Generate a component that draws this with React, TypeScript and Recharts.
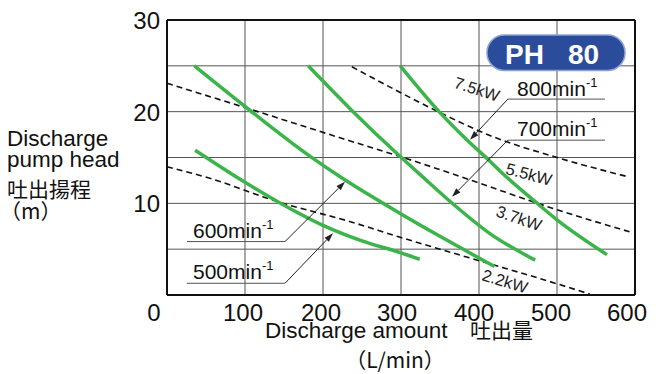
import React from 'react';
import { LineChart, Line, XAxis, YAxis, CartesianGrid, ReferenceLine } from 'recharts';

// 回転数別の性能曲線 (吐出量 L/min → 揚程 m)
const flow500 = [36, 100, 150, 200, 250, 300, 324];
const head500 = [15.8, 12.3, 9.8, 7.6, 5.9, 4.6, 3.9];
const flow600 = [35, 107, 184, 222, 299, 350, 420];
const head600 = [25.0, 20.1, 15.1, 12.9, 8.9, 6.4, 3.1];
const flow700 = [181, 235, 299, 325, 363, 414, 472];
const head700 = [25.0, 20.3, 15.1, 13.1, 10.2, 6.7, 3.8];
const flow800 = [299, 350, 386, 414, 431, 469, 500, 564];
const head800 = [25.0, 19.9, 16.8, 14.6, 13.2, 10.4, 8.2, 4.4];

// 出力の境界線 (破線)
const flowLimitHigh = [237, 299, 350, 414, 500, 591];
const headLimitHigh = [24.9, 22.1, 19.9, 17.4, 15.0, 12.9];
const flowLimitMid = [0, 98, 235, 299, 363, 414, 500, 593];
const headLimitMid = [23.1, 20.5, 16.8, 15.1, 13.3, 11.8, 9.3, 6.9];
const flowLimitLow = [0, 56, 141, 235, 299, 350, 414, 474, 542];
const headLimitLow = [14.0, 12.7, 10.2, 8.0, 6.3, 5.0, 3.4, 1.9, 0.1];

const xTicks = [0, 100, 200, 300, 400, 500, 600];
const yTicks = [0, 5, 10, 15, 20, 25, 30];
const yLabelled = [10, 20, 30];
const speedLabels = ['800', '700', '600', '500'];
const powerLabels = ['7.5kW', '5.5kW', '3.7kW', '2.2kW'];

// 引き出し線: 下線の両端と矢印の先 (データ座標)
const underlineFrom = [437, 437, 25.6, 25.6];
const underlineTo = [561.5, 561.5, 151.3, 151.3];
const underlineHead = [21.37, 16.89, 5.83, 1.28];
const arrowFromFlow = [437, 437, 151.3, 151.3];
const arrowTipFlow = [388.5, 365.4, 228.2, 212.8];
const arrowTipHead = [16.94, 10.71, 12.35, 6.74];

const toPoints = (xs: number[], ys: number[]) => xs.map((x, i) => ({ x, y: ys[i] }));

const FONT = '"Liberation Sans", Arial, Helvetica, sans-serif';
const CJK = '"Noto Sans CJK JP", "Liberation Sans", sans-serif';
const GREEN = '#3bb44a';

const xShift: Record<number, number> = { 0: -13, 100: -2, 200: -2, 300: -4, 400: -5, 500: -6, 600: -8 };

const XTick = (props: any) => {
  const { x, y, payload } = props;
  return (
    <text x={x + (xShift[payload.value] ?? 0)} y={y + 18} textAnchor="middle" fontSize={24} fontFamily={FONT} fill="#111">
      {payload.value}
    </text>
  );
};

const YTick = (props: any) => {
  const { x, y, payload } = props;
  if (!yLabelled.includes(payload.value)) return <g />;
  return (
    <text x={x + 1} y={y + 9} textAnchor="end" fontSize={24} fontFamily={FONT} fill="#111">
      {payload.value}
    </text>
  );
};

const Arrow = (props: any) => {
  const { x1, y1, x2, y2 } = props;
  const a = Math.atan2(y2 - y1, x2 - x1);
  const len = 9;
  const w = 3;
  const bx = x2 - len * Math.cos(a);
  const by = y2 - len * Math.sin(a);
  const px = -Math.sin(a) * w;
  const py = Math.cos(a) * w;
  return (
    <g>
      <line x1={x1} y1={y1} x2={bx} y2={by} stroke="#222" strokeWidth={1} />
      <polygon points={`${x2},${y2} ${bx + px},${by + py} ${bx - px},${by - py}`} fill="#222" />
    </g>
  );
};

const Speed = ({ x, y, value }: { x: number; y: number; value: string }) => (
  <text x={x} y={y} fontSize={21} fontFamily={FONT} fill="#111">
    {value}min
    <tspan fontSize={13} dy={-9}>-1</tspan>
  </text>
);

const curves = [
  { key: '500', pts: toPoints(flow500, head500) },
  { key: '600', pts: toPoints(flow600, head600) },
  { key: '700', pts: toPoints(flow700, head700) },
  { key: '800', pts: toPoints(flow800, head800) },
];

const limits = [
  { key: 'high', pts: toPoints(flowLimitHigh, headLimitHigh) },
  { key: 'mid', pts: toPoints(flowLimitMid, headLimitMid) },
  { key: 'low', pts: toPoints(flowLimitLow, headLimitLow) },
];

export default function App() {
  const speedPos = [
    { x: 517, y: 96 },
    { x: 517, y: 136 },
    { x: 193, y: 238 },
    { x: 193, y: 279 },
  ];
  const powerPos = [
    { x: 477, y: 89, r: 18 },
    { x: 529, y: 174, r: 15 },
    { x: 519, y: 218, r: 19 },
    { x: 505, y: 281, r: 17 },
  ];

  return (
    <div style={{ position: 'absolute', left: 0, top: 0, width: 659, height: 374, background: '#fff' }}>
      <LineChart width={659} height={374} margin={{ top: 20, right: 24, bottom: 49, left: 127 }}>
        <CartesianGrid stroke="#555" strokeWidth={1} />
        <XAxis
          type="number"
          dataKey="x"
          domain={[0, 600]}
          ticks={xTicks}
          height={30}
          tickLine={false}
          axisLine={{ stroke: '#111', strokeWidth: 2 }}
          tick={XTick}
        />
        <YAxis
          type="number"
          dataKey="y"
          domain={[0, 30]}
          ticks={yTicks}
          width={40}
          tickLine={false}
          axisLine={{ stroke: '#111', strokeWidth: 2 }}
          tick={YTick}
        />
        <ReferenceLine y={30} stroke="#111" strokeWidth={2} />
        <ReferenceLine x={600} stroke="#111" strokeWidth={2} />
        {limits.map(l => (
          <Line
            key={l.key}
            data={l.pts}
            dataKey="y"
            type="monotone"
            stroke="#111"
            strokeWidth={1.6}
            strokeDasharray="6 4"
            dot={false}
            isAnimationActive={false}
          />
        ))}
        {curves.map(c => (
          <Line
            key={c.key}
            data={c.pts}
            dataKey="y"
            type="monotone"
            stroke={GREEN}
            strokeWidth={3.5}
            dot={false}
            isAnimationActive={false}
          />
        ))}
        {speedLabels.map((s, i) => (
          <ReferenceLine
            key={'u' + s}
            segment={[
              { x: underlineFrom[i], y: underlineHead[i] },
              { x: underlineTo[i], y: underlineHead[i] },
            ]}
            stroke="#555"
            strokeWidth={1}
          />
        ))}
        {speedLabels.map((s, i) => (
          <ReferenceLine
            key={'a' + s}
            segment={[
              { x: arrowFromFlow[i], y: underlineHead[i] },
              { x: arrowTipFlow[i], y: arrowTipHead[i] },
            ]}
            shape={Arrow}
          />
        ))}
      </LineChart>

      <svg width={659} height={374} style={{ position: 'absolute', left: 0, top: 0, pointerEvents: 'none' }}>
        {/* 機種バッジ */}
        <rect x={487} y={35} width={138} height={35.5} rx={17.5} fill="#2b4c9b" stroke="#8aa2d8" strokeWidth={1.5} />
        <text y={63.5} fontSize={28} fontWeight="bold" fontFamily={FONT} fill="#fff">
          <tspan x={505}>PH</tspan>
          <tspan x={568}>80</tspan>
        </text>

        {speedLabels.map((s, i) => (
          <Speed key={s} x={speedPos[i].x} y={speedPos[i].y} value={s} />
        ))}

        {powerLabels.map((p, i) => (
          <text
            key={p}
            x={powerPos[i].x}
            y={powerPos[i].y}
            textAnchor="middle"
            dominantBaseline="central"
            fontSize={16.5}
            fontFamily={FONT}
            fill="#222"
            transform={`rotate(${powerPos[i].r} ${powerPos[i].x} ${powerPos[i].y})`}
          >
            {p}
          </text>
        ))}

        {/* 縦軸タイトル */}
        <text x={7} y={146} fontSize={22.5} fontFamily={FONT} fill="#111">Discharge</text>
        <text x={7} y={167} fontSize={22.5} fontFamily={FONT} fill="#111">pump head</text>
        <text x={7} y={197} fontSize={21} fontFamily={CJK} fill="#111">吐出揚程</text>
        <text x={0} y={219} fontSize={21} fontFamily={CJK} fill="#111">（m）</text>

        {/* 横軸タイトル */}
        <text y={338} fill="#111">
          <tspan x={265} fontSize={22.5} fontFamily={FONT}>Discharge amount</tspan>
          <tspan x={470} fontSize={21} fontFamily={CJK}>吐出量</tspan>
        </text>
        <text x={395} y={368} textAnchor="middle" fontSize={21} fontFamily={CJK} fill="#111">（L/min）</text>
      </svg>
    </div>
  );
}
